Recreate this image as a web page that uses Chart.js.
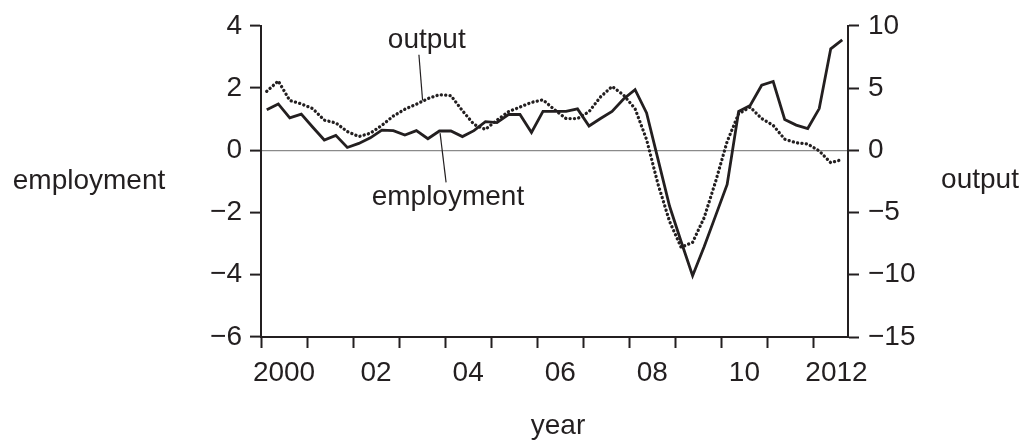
<!DOCTYPE html>
<html lang="en">
<head>
    <meta charset="UTF-8">
    <title>Employment and output</title>
    <script src="https://cdn.jsdelivr.net/npm/chart.js@4.4.1/dist/chart.umd.min.js"></script>
    <style>
        body { margin: 0; background: #fff; }
        #wrap { width: 1025px; height: 441px; position: relative; }
    </style>
</head>
<body>
    <div id="wrap"><canvas id="chart"></canvas></div>

    <script>
        // quarterly growth, 2000Q1 .. 2012Q3
        const quarters = [
            '2000Q1','2000Q2','2000Q3','2000Q4','2001Q1','2001Q2','2001Q3','2001Q4',
            '2002Q1','2002Q2','2002Q3','2002Q4','2003Q1','2003Q2','2003Q3','2003Q4',
            '2004Q1','2004Q2','2004Q3','2004Q4','2005Q1','2005Q2','2005Q3','2005Q4',
            '2006Q1','2006Q2','2006Q3','2006Q4','2007Q1','2007Q2','2007Q3','2007Q4',
            '2008Q1','2008Q2','2008Q3','2008Q4','2009Q1','2009Q2','2009Q3','2009Q4',
            '2010Q1','2010Q2','2010Q3','2010Q4','2011Q1','2011Q2','2011Q3','2011Q4',
            '2012Q1','2012Q2','2012Q3'
        ];
        const employment = [
            1.30, 1.49, 1.04, 1.16, 0.74, 0.33, 0.48, 0.09, 0.22, 0.40,
            0.65, 0.63, 0.49, 0.63, 0.37, 0.62, 0.62, 0.44, 0.63, 0.92,
            0.89, 1.15, 1.15, 0.57, 1.25, 1.25, 1.25, 1.33, 0.78, 1.02,
            1.25, 1.65, 1.95, 1.20, -0.30, -1.80, -2.93, -4.03, -3.10, -2.10,
            -1.10, 1.25, 1.44, 2.09, 2.21, 0.99, 0.81, 0.70, 1.34, 3.26,
            3.55
        ];
        const output = [
            4.74, 5.57, 4.00, 3.73, 3.34, 2.42, 2.20, 1.50, 1.10, 1.37,
            2.00, 2.75, 3.30, 3.70, 4.15, 4.47, 4.39, 3.18, 2.08, 1.68,
            2.42, 3.10, 3.47, 3.85, 4.05, 3.26, 2.55, 2.55, 3.10, 4.29,
            5.13, 4.44, 3.34, 0.86, -2.74, -5.72, -7.80, -7.40, -5.42, -2.50,
            0.70, 2.94, 3.47, 2.55, 2.00, 0.89, 0.60, 0.50, -0.05, -1.00,
            -0.74
        ];
        const yearTicks = [2000, 2001, 2002, 2003, 2004, 2005, 2006, 2007, 2008, 2009, 2010, 2011, 2012];
        const labelYears = [2000, 2002, 2004, 2006, 2008, 2010, 2012];
        const tickLabels = ['2000', '02', '04', '06', '08', '10', '2012'];
        const empTicks = [-6, -4, -2, 0, 2, 4];
        const outTicks = [-15, -10, -5, 0, 5, 10];

        const FONT = "'Liberation Sans', Arial, Helvetica, sans-serif";
        const INK = '#231f20';
        const minus = v => v < 0 ? '\u2212' + Math.abs(v) : String(v);

        // quarter label -> decimal year at the middle of the quarter
        const toX = q => +q.slice(0, 4) + (+q.slice(5) - 0.5) / 4;

        // callout labels in data units (left axis)
        const callouts = [
            { text: 'output', x: 2003.60, y: 3.30, from: [2003.43, 3.07], to: [2003.51, 1.60] },
            { text: 'employment', x: 2004.06, y: -1.77, from: [2003.89, 0.55], to: [2004.02, -1.03] }
        ];

        const textPlugin = {
            id: 'texts',
            afterDraw(chart) {
                const { ctx, scales } = chart;
                const xs = scales.x, ys = scales.y;
                ctx.save();
                ctx.fillStyle = INK;
                ctx.strokeStyle = INK;
                ctx.font = '28px ' + FONT;
                ctx.textAlign = 'center';
                ctx.textBaseline = 'alphabetic';
                ctx.fillText('employment', 89, 189);
                ctx.fillText('output', 980, 188);
                ctx.fillText('year', 558, 434);
                ctx.lineWidth = 1.2;
                callouts.forEach(c => {
                    ctx.fillText(c.text, xs.getPixelForValue(c.x), ys.getPixelForValue(c.y));
                    ctx.beginPath();
                    ctx.moveTo(xs.getPixelForValue(c.from[0]), ys.getPixelForValue(c.from[1]));
                    ctx.lineTo(xs.getPixelForValue(c.to[0]), ys.getPixelForValue(c.to[1]));
                    ctx.stroke();
                });
                ctx.restore();
            }
        };

        new Chart(document.getElementById('chart'), {
            type: 'line',
            data: {
                datasets: [
                    {
                        label: 'employment',
                        data: quarters.map((q, i) => ({ x: toX(q), y: employment[i] })),
                        yAxisID: 'y',
                        borderColor: INK,
                        borderWidth: 2.8,
                        pointRadius: 0,
                        tension: 0
                    },
                    {
                        label: 'output',
                        data: quarters.map((q, i) => ({ x: toX(q), y: output[i] })),
                        yAxisID: 'y2',
                        borderColor: INK,
                        borderWidth: 3.3,
                        borderDash: [0.1, 4.3],
                        borderCapStyle: 'round',
                        pointRadius: 0,
                        tension: 0
                    }
                ]
            },
            options: {
                responsive: true,
                maintainAspectRatio: false,
                animation: false,
                devicePixelRatio: 1,
                layout: { padding: { top: 21, left: 0, right: 0, bottom: 0 } },
                plugins: {
                    legend: { display: false },
                    tooltip: { enabled: false }
                },
                scales: {
                    x: {
                        type: 'linear',
                        min: 2000,
                        max: 2012.75,
                        afterFit: s => { s.height = 104; },
                        afterBuildTicks: s => {
                            const vals = yearTicks.concat(labelYears.map(y => y + 0.5)).sort((a, b) => a - b);
                            s.ticks = vals.map(v => ({ value: v }));
                        },
                        border: { display: true, color: INK, width: 2 },
                        grid: {
                            drawOnChartArea: false,
                            tickLength: 11,
                            tickWidth: 2,
                            tickColor: c => Number.isInteger(c.tick.value) ? INK : 'rgba(0,0,0,0)'
                        },
                        ticks: {
                            autoSkip: false,
                            maxRotation: 0,
                            padding: 8,
                            color: INK,
                            font: { family: FONT, size: 28 },
                            callback: v => {
                                const k = labelYears.indexOf(v - 0.5);
                                return k >= 0 ? tickLabels[k] : '';
                            }
                        }
                    },
                    y: {
                        position: 'left',
                        min: -6,
                        max: 4,
                        afterFit: s => { s.width = 261; },
                        afterBuildTicks: s => { s.ticks = empTicks.map(v => ({ value: v })); },
                        border: { display: true, color: INK, width: 2 },
                        grid: {
                            drawOnChartArea: true,
                            color: c => c.tick && c.tick.value === 0 ? '#8a8a8a' : 'rgba(0,0,0,0)',
                            lineWidth: 1.2,
                            tickLength: 11,
                            tickWidth: 2,
                            tickColor: INK
                        },
                        ticks: {
                            padding: 8,
                            color: INK,
                            font: { family: FONT, size: 28 },
                            callback: v => minus(v)
                        }
                    },
                    y2: {
                        position: 'right',
                        min: -15,
                        max: 10,
                        afterFit: s => { s.width = 177; },
                        afterBuildTicks: s => { s.ticks = outTicks.map(v => ({ value: v })); },
                        border: { display: true, color: INK, width: 2 },
                        grid: {
                            drawOnChartArea: false,
                            tickLength: 11,
                            tickWidth: 2,
                            tickColor: INK
                        },
                        ticks: {
                            padding: 9,
                            color: INK,
                            font: { family: FONT, size: 28 },
                            callback: v => minus(v)
                        }
                    }
                }
            },
            plugins: [textPlugin]
        });
    </script>
</body>
</html>
